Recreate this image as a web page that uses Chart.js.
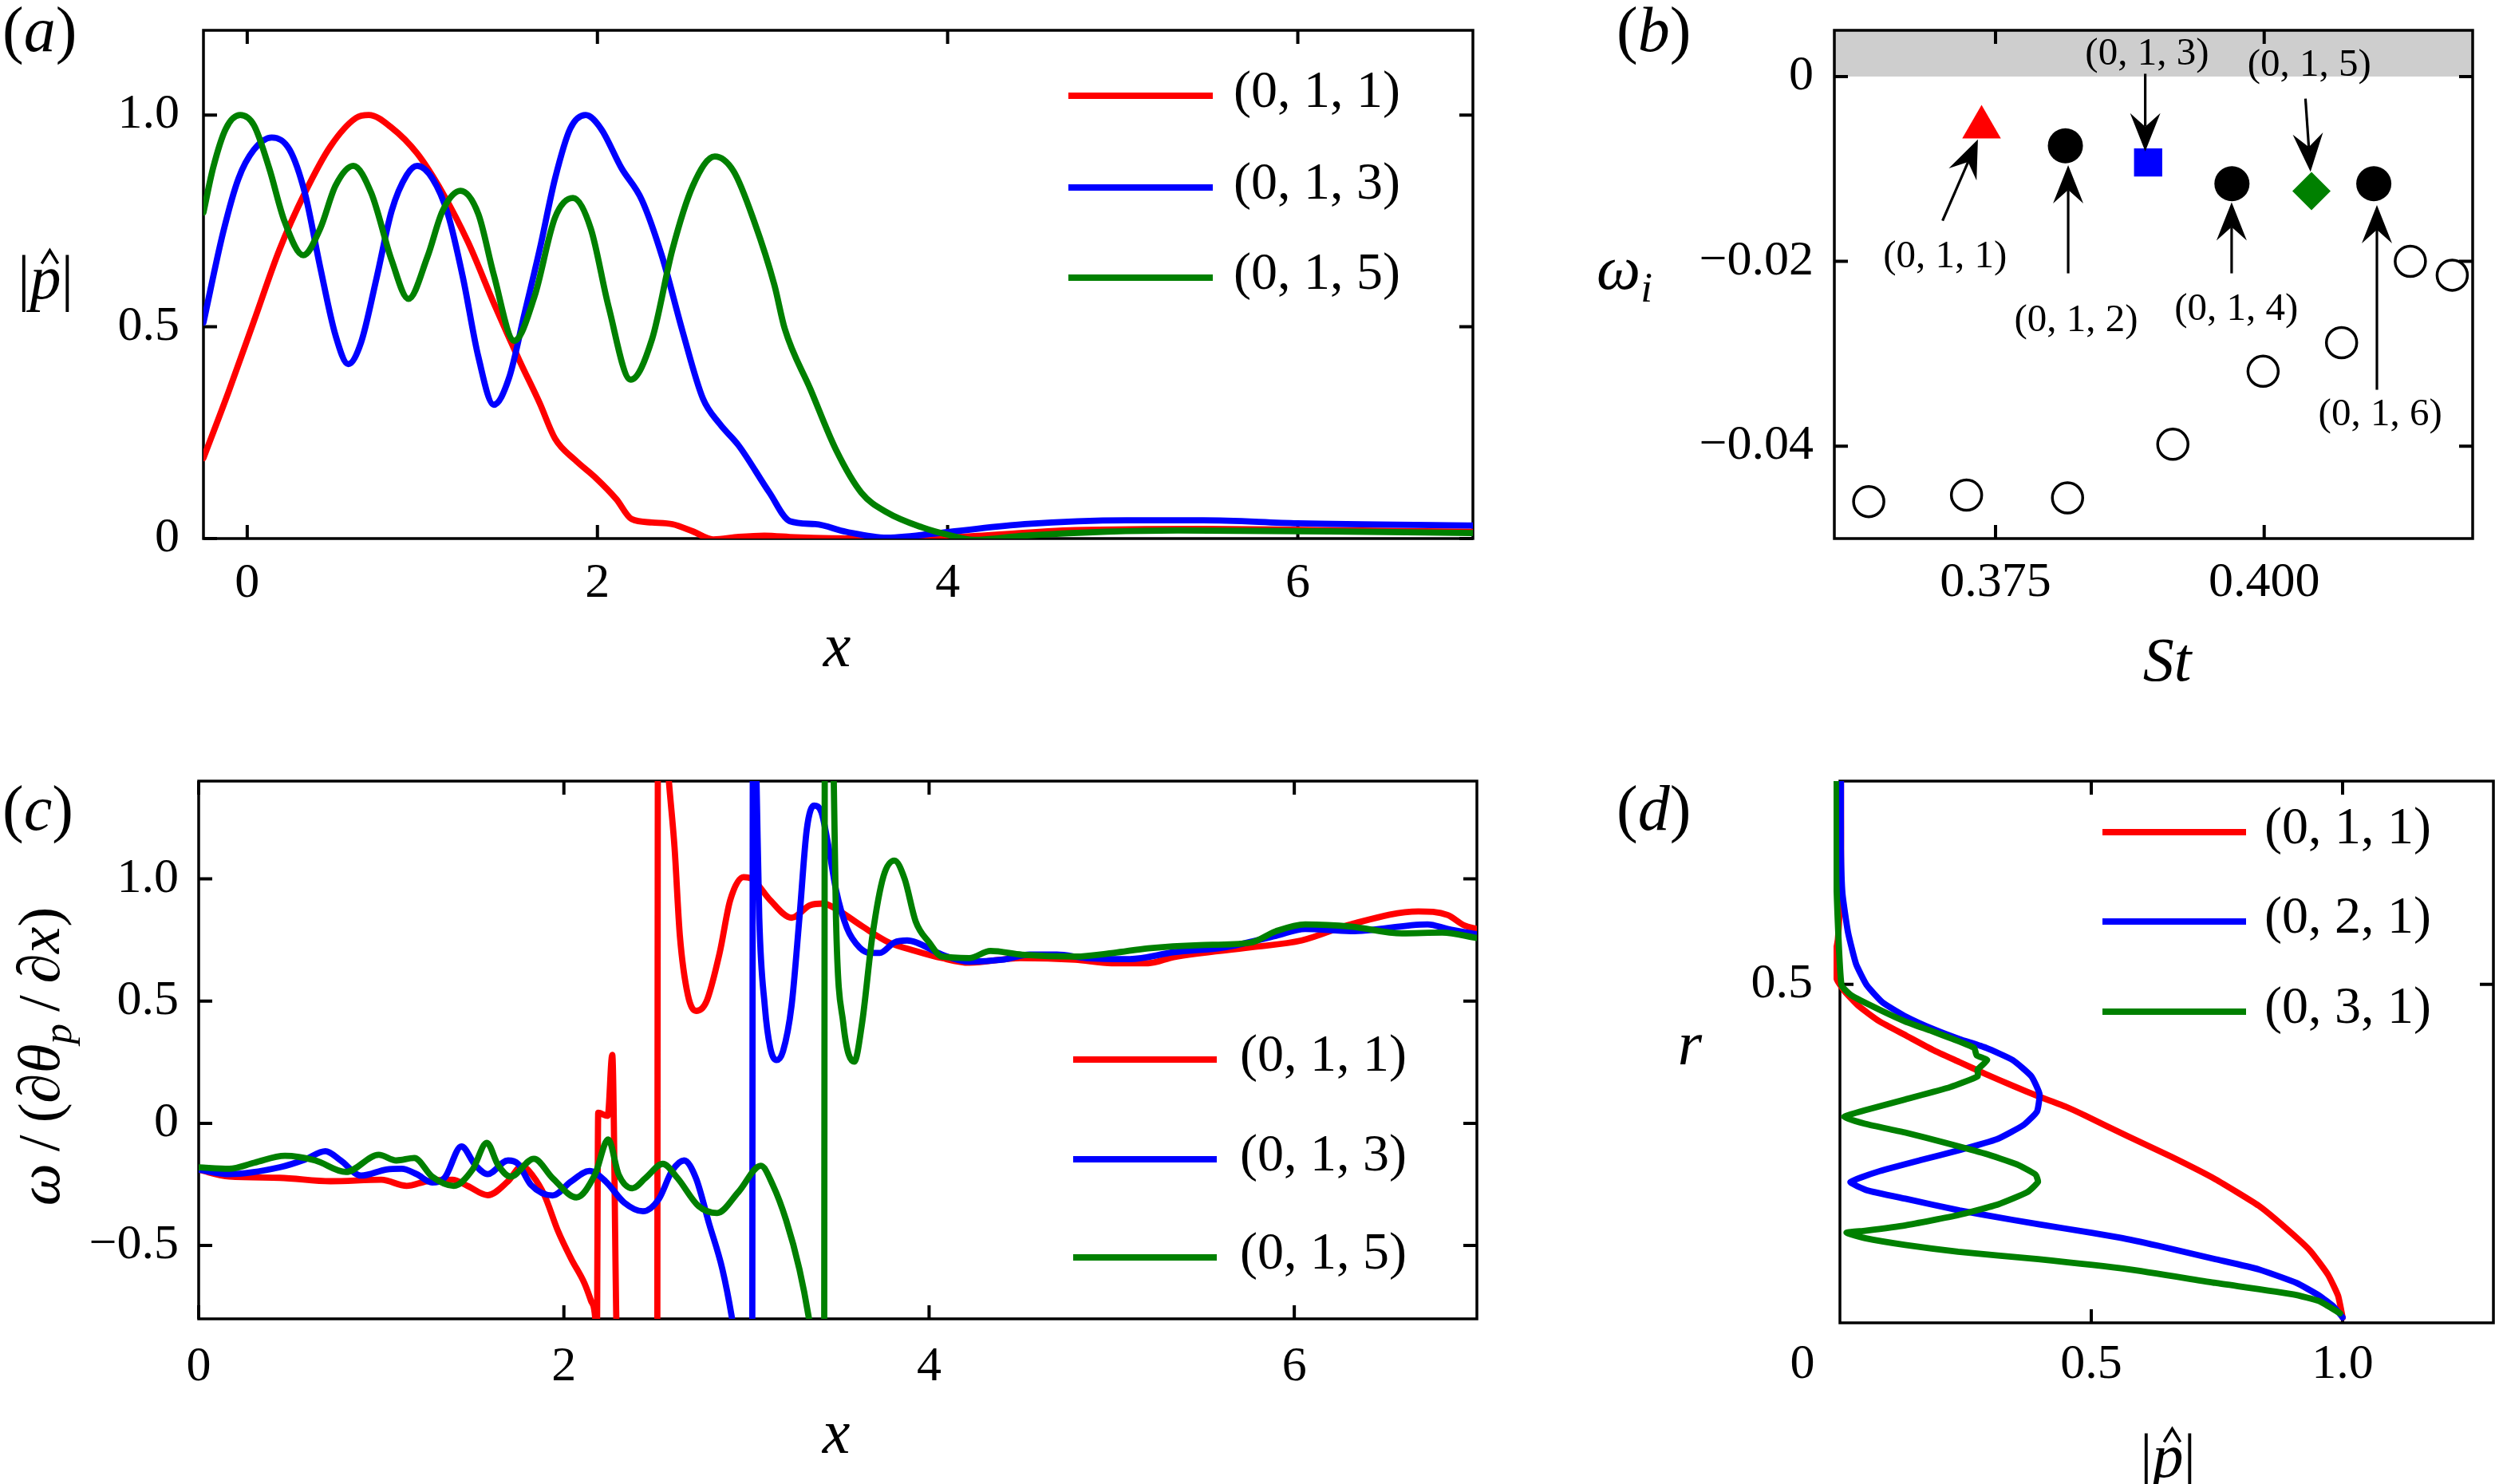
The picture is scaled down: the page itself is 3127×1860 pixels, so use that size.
<!DOCTYPE html>
<html>
<head>
<meta charset="utf-8">
<script src="https://cdn.jsdelivr.net/npm/chart.js@4.4.1/dist/chart.umd.min.js"></script>
<style>
  html, body { margin:0; padding:0; background:#ffffff; }
  body { width:3127px; height:1860px; position:relative; overflow:hidden; }
  canvas { position:absolute; display:block; }
</style>
</head>
<body>
<canvas id="cA" width="1900" height="900" style="left:0px;top:0px;width:1900px;height:900px"></canvas>
<canvas id="cB" width="1177" height="900" style="left:1950px;top:0px;width:1177px;height:900px"></canvas>
<canvas id="cC" width="1900" height="930" style="left:0px;top:930px;width:1900px;height:930px"></canvas>
<canvas id="cD" width="1177" height="930" style="left:1950px;top:930px;width:1177px;height:930px"></canvas>
<script>
// ---------------- DATA ----------------
// Panel (a): |p_hat| versus x
const A_SERIES = ['(0, 1, 1)', '(0, 1, 3)', '(0, 1, 5)'];
const A_X_011 = [-0.25, -0.108, 0.038, 0.184, 0.329, 0.475, 0.621, 0.694, 0.825, 0.971, 1.116, 1.262, 1.408, 1.554, 1.67, 1.758, 1.874, 1.991, 2.108, 2.195, 2.312, 2.428, 2.545, 2.661, 2.807, 2.953, 3.13, 3.56, 4.01, 4.73, 5.46, 6.18, 7.0];
const A_Y_011 = [0.19, 0.345, 0.513, 0.682, 0.816, 0.926, 0.993, 1.0, 0.97, 0.909, 0.816, 0.699, 0.556, 0.421, 0.32, 0.236, 0.185, 0.143, 0.093, 0.046, 0.038, 0.034, 0.017, -0.002, 0.004, 0.007, 0.003, 0.0, 0.003, 0.02, 0.023, 0.02, 0.016];
const A_X_013 = [-0.25, -0.137, -0.05, 0.038, 0.14, 0.242, 0.329, 0.417, 0.504, 0.577, 0.65, 0.738, 0.825, 0.912, 0.971, 1.058, 1.146, 1.233, 1.32, 1.408, 1.495, 1.583, 1.67, 1.758, 1.845, 1.933, 2.02, 2.137, 2.253, 2.37, 2.487, 2.603, 2.7, 2.806, 2.983, 3.099, 3.245, 3.42, 3.653, 4.01, 4.44, 5.02, 5.46, 6.0, 7.0];
const A_Y_013 = [0.51, 0.724, 0.85, 0.918, 0.947, 0.918, 0.816, 0.64, 0.48, 0.412, 0.463, 0.614, 0.774, 0.859, 0.88, 0.85, 0.766, 0.614, 0.429, 0.316, 0.379, 0.53, 0.682, 0.85, 0.968, 1.0, 0.968, 0.875, 0.8, 0.665, 0.488, 0.33, 0.27, 0.22, 0.108, 0.041, 0.034, 0.016, 0.002, 0.016, 0.034, 0.043, 0.043, 0.036, 0.031];
const A_X_015 = [-0.25, -0.195, -0.122, -0.04, 0.038, 0.125, 0.213, 0.32, 0.417, 0.504, 0.606, 0.708, 0.825, 0.921, 1.029, 1.116, 1.218, 1.32, 1.408, 1.525, 1.641, 1.758, 1.86, 1.962, 2.064, 2.19, 2.312, 2.428, 2.545, 2.67, 2.778, 2.895, 3.011, 3.07, 3.216, 3.362, 3.508, 3.653, 3.857, 4.01, 4.15, 4.44, 5.31, 6.18, 7.0];
const A_Y_015 = [0.77, 0.875, 0.968, 1.0, 0.976, 0.875, 0.749, 0.669, 0.732, 0.833, 0.88, 0.816, 0.657, 0.566, 0.665, 0.774, 0.821, 0.766, 0.623, 0.467, 0.572, 0.758, 0.804, 0.732, 0.547, 0.375, 0.471, 0.682, 0.833, 0.902, 0.867, 0.749, 0.598, 0.495, 0.353, 0.21, 0.108, 0.062, 0.026, 0.008, -0.003, 0.007, 0.019, 0.017, 0.013];
const A_XTICKS = [0, 2, 4, 6];
const A_XLABELS = ['0', '2', '4', '6'];
const A_YTICKS = [0, 0.5, 1.0];
const A_YLABELS = ['0', '0.5', '1.0'];

// Panel (b): growth rate omega_i versus St
const B_TRI_ST = [0.3737];            const B_TRI_WI = [-0.0055];
const B_FILLED_ST = [0.3815, 0.397, 0.4102]; const B_FILLED_WI = [-0.0075, -0.0116, -0.0116];
const B_SQ_ST = [0.3892];             const B_SQ_WI = [-0.0093];
const B_DIA_ST = [0.4044];            const B_DIA_WI = [-0.0124];
const B_OPEN_ST = [0.3632, 0.3723, 0.3817, 0.3915, 0.3999, 0.4072, 0.4136, 0.4175];
const B_OPEN_WI = [-0.0460, -0.0453, -0.0456, -0.0398, -0.0319, -0.0288, -0.0200, -0.0215];
const B_XTICKS = [0.375, 0.400];
const B_XLABELS = ['0.375', '0.400'];
const B_YTICKS = [0, -0.02, -0.04];
const B_YLABELS = ['0', '\u22120.02', '\u22120.04'];
const B_LABELS = ['(0, 1, 1)', '(0, 1, 2)', '(0, 1, 3)', '(0, 1, 4)', '(0, 1, 5)', '(0, 1, 6)'];

// Panel (c): omega/(d theta_p/dx) versus x
const C_SERIES = ['(0, 1, 1)', '(0, 1, 3)', '(0, 1, 5)'];
const C_X_011 = [0, 0.167, 0.444, 0.722, 1.0, 1.139, 1.25, 1.389, 1.472, 1.583, 1.694, 1.77, 1.83, 1.894, 1.967, 2.04, 2.113, 2.149, 2.172, 2.18, 2.188, 2.24, 2.265, 2.292, 2.51, 2.516, 2.575, 2.606, 2.635, 2.679, 2.725, 2.78, 2.853, 2.911, 2.984, 3.03, 3.13, 3.247, 3.348, 3.42, 3.49, 3.636, 3.78, 3.926, 4.07, 4.22, 4.5, 4.8, 5.0, 5.2, 5.34, 5.76, 6.04, 6.31, 6.68, 6.84, 6.93, 7.0];
const C_Y_011 = [-0.19, -0.218, -0.223, -0.237, -0.231, -0.256, -0.237, -0.231, -0.256, -0.294, -0.237, -0.175, -0.215, -0.295, -0.439, -0.554, -0.655, -0.727, -0.8, -0.95, 0.043, 0.03, 0.28, -0.95, -1.6, 2.0, 1.4, 1.129, 0.769, 0.525, 0.46, 0.497, 0.697, 0.913, 1.007, 1.0, 0.913, 0.841, 0.892, 0.899, 0.877, 0.805, 0.74, 0.705, 0.676, 0.657, 0.676, 0.669, 0.655, 0.655, 0.68, 0.72, 0.748, 0.814, 0.867, 0.852, 0.81, 0.795];
const C_X_013 = [0, 0.167, 0.444, 0.583, 0.694, 0.778, 0.889, 1.028, 1.111, 1.194, 1.278, 1.347, 1.439, 1.514, 1.583, 1.694, 1.749, 1.82, 1.938, 2.04, 2.14, 2.229, 2.33, 2.433, 2.52, 2.592, 2.658, 2.723, 2.795, 2.868, 2.919, 2.96, 3.03, 3.036, 3.055, 3.07, 3.1, 3.13, 3.165, 3.2, 3.247, 3.29, 3.33, 3.37, 3.41, 3.45, 3.49, 3.55, 3.62, 3.68, 3.73, 3.81, 3.88, 3.93, 4.07, 4.22, 4.4, 4.55, 4.7, 4.86, 5.1, 5.342, 5.62, 5.9, 6.06, 6.31, 6.73, 6.84, 7.0];
const C_Y_013 = [-0.19, -0.208, -0.18, -0.148, -0.114, -0.152, -0.214, -0.189, -0.186, -0.208, -0.242, -0.223, -0.095, -0.17, -0.208, -0.152, -0.166, -0.252, -0.295, -0.238, -0.195, -0.238, -0.324, -0.36, -0.31, -0.195, -0.152, -0.224, -0.41, -0.597, -0.79, -1.0, -1.6, 2.0, 1.4, 0.841, 0.482, 0.309, 0.259, 0.295, 0.482, 0.841, 1.201, 1.30, 1.273, 1.129, 0.956, 0.799, 0.719, 0.697, 0.697, 0.74, 0.748, 0.74, 0.69, 0.661, 0.669, 0.69, 0.69, 0.676, 0.672, 0.70, 0.72, 0.767, 0.795, 0.786, 0.814, 0.795, 0.773];
const C_X_015 = [0, 0.167, 0.306, 0.472, 0.639, 0.806, 0.986, 1.083, 1.181, 1.278, 1.397, 1.5, 1.578, 1.639, 1.708, 1.836, 1.938, 2.069, 2.17, 2.243, 2.3, 2.375, 2.447, 2.542, 2.622, 2.738, 2.839, 2.956, 3.079, 3.144, 3.217, 3.29, 3.34, 3.38, 3.424, 3.43, 3.478, 3.49, 3.53, 3.59, 3.633, 3.69, 3.75, 3.81, 3.866, 3.926, 4.0, 4.07, 4.22, 4.336, 4.51, 4.8, 5.01, 5.2, 5.48, 5.76, 5.9, 6.06, 6.31, 6.59, 6.81, 7.0];
const C_Y_015 = [-0.18, -0.186, -0.161, -0.133, -0.152, -0.199, -0.129, -0.152, -0.142, -0.218, -0.256, -0.189, -0.08, -0.17, -0.218, -0.145, -0.224, -0.303, -0.21, -0.066, -0.21, -0.266, -0.224, -0.166, -0.224, -0.339, -0.367, -0.281, -0.174, -0.252, -0.396, -0.597, -0.79, -1.0, -1.6, 2.0, 1.4, 0.841, 0.41, 0.252, 0.41, 0.769, 1.01, 1.075, 1.0, 0.827, 0.74, 0.682, 0.676, 0.705, 0.69, 0.682, 0.697, 0.716, 0.729, 0.739, 0.786, 0.814, 0.805, 0.777, 0.78, 0.758];
const C_XTICKS = [0, 2, 4, 6];
const C_XLABELS = ['0', '2', '4', '6'];
const C_YTICKS = [-0.5, 0, 0.5, 1.0];
const C_YLABELS = ['\u22120.5', '0', '0.5', '1.0'];

// Panel (d): r versus |p_hat|
const D_SERIES = ['(0, 1, 1)', '(0, 2, 1)', '(0, 3, 1)'];
const D_P_011 = [0.002, 0.002, -0.004, -0.012, -0.006, 0.01, 0.037, 0.079, 0.132, 0.185, 0.238, 0.291, 0.344, 0.397, 0.45, 0.488, 0.574, 0.66, 0.747, 0.833, 0.89, 0.936, 0.971, 0.991, 1.0];
const D_R_011 = [0.80, 0.65, 0.567, 0.53, 0.507, 0.489, 0.468, 0.445, 0.424, 0.403, 0.385, 0.367, 0.35, 0.334, 0.319, 0.306, 0.275, 0.245, 0.212, 0.173, 0.138, 0.106, 0.071, 0.04, 0.008];
const D_P_021 = [0.002, 0.002, 0.005, 0.016, 0.032, 0.053, 0.085, 0.132, 0.185, 0.238, 0.291, 0.344, 0.381, 0.397, 0.392, 0.365, 0.312, 0.238, 0.159, 0.079, 0.021, 0.053, 0.132, 0.238, 0.344, 0.45, 0.556, 0.632, 0.747, 0.833, 0.908, 0.954, 0.982, 1.0];
const D_R_021 = [0.80, 0.70, 0.634, 0.577, 0.53, 0.499, 0.473, 0.452, 0.434, 0.419, 0.406, 0.388, 0.364, 0.338, 0.312, 0.292, 0.271, 0.255, 0.24, 0.224, 0.208, 0.196, 0.183, 0.166, 0.152, 0.139, 0.126, 0.114, 0.094, 0.079, 0.059, 0.04, 0.024, 0.008];
const D_P_031 = [-0.008, -0.007, 0.003, 0.024, 0.077, 0.13, 0.182, 0.225, 0.267, 0.272, 0.293, 0.274, 0.274, 0.219, 0.13, 0.05, 0.008, 0.05, 0.13, 0.209, 0.288, 0.352, 0.389, 0.394, 0.373, 0.315, 0.235, 0.13, 0.05, 0.013, 0.05, 0.13, 0.235, 0.394, 0.574, 0.747, 0.902, 0.954, 0.995];
const D_R_031 = [0.80, 0.65, 0.499, 0.483, 0.463, 0.445, 0.431, 0.419, 0.406, 0.395, 0.388, 0.374, 0.364, 0.348, 0.33, 0.314, 0.304, 0.294, 0.281, 0.266, 0.25, 0.234, 0.219, 0.208, 0.193, 0.175, 0.159, 0.144, 0.136, 0.133, 0.125, 0.115, 0.105, 0.094, 0.079, 0.059, 0.042, 0.032, 0.014];
const D_XTICKS = [0.5, 1.0];
const D_XLABELS = ['0.5', '1.0'];
const D_YTICKS = [0.5];
const D_YLABELS = ['0.5'];

// ---------------- STYLE / LAYOUT ----------------
const FAM = '"Liberation Serif", "Times New Roman", serif';
const RED = '#ff0000', BLUE = '#0000ff', GREEN = '#008000';
const TICK_FONT = 62, LEG_FONT = 66, TITLE_FONT = 78, PANEL_FONT = 80, ANN_FONT = 49;
const LINE_W = 7.8;

function fnt(size, italic) { return (italic ? 'italic ' : 'normal ') + size + 'px ' + FAM; }
function pts(xs, ys) { return xs.map((x, i) => ({ x: x, y: ys[i] })); }

function rich(ctx, segs, x, y, size, align) {
  const items = segs.map(s => {
    const fs = s.sub ? size * 0.68 : size;
    ctx.font = fnt(fs, s.i);
    return { s: s, fs: fs, w: ctx.measureText(s.t).width };
  });
  const total = items.reduce((a, b) => a + b.w, 0);
  let cx = (align === 'left') ? x : x - total / 2;
  ctx.save();
  ctx.textAlign = 'left'; ctx.textBaseline = 'alphabetic'; ctx.fillStyle = '#000';
  for (const it of items) {
    ctx.font = fnt(it.fs, it.s.i);
    ctx.fillText(it.s.t, cx, y + (it.s.sub ? size * 0.2 : 0));
    if (it.s.hat) {
      const hx = cx + it.w * 0.5 + size * 0.07;
      ctx.strokeStyle = '#000'; ctx.lineWidth = size * 0.045; ctx.lineJoin = 'miter';
      ctx.beginPath();
      ctx.moveTo(hx - size * 0.13, y - size * 0.56);
      ctx.lineTo(hx, y - size * 0.77);
      ctx.lineTo(hx + size * 0.13, y - size * 0.56);
      ctx.stroke();
    }
    cx += it.w;
  }
  ctx.restore();
}

function framePlugin(id, xt, yt, band) {
  return {
    id: id,
    beforeDatasetsDraw(chart) {
      const { ctx, chartArea: a, scales: { x, y } } = chart;
      ctx.save();
      if (band) {
        const y0 = y.getPixelForValue(0);
        ctx.fillStyle = '#cecece';
        ctx.fillRect(a.left, a.top, a.right - a.left, y0 - a.top);
      }
      ctx.strokeStyle = '#000';
      ctx.lineWidth = 4;
      const L = 17;
      ctx.beginPath();
      for (const v of xt) {
        const px = x.getPixelForValue(v);
        ctx.moveTo(px, a.bottom); ctx.lineTo(px, a.bottom - L);
        ctx.moveTo(px, a.top); ctx.lineTo(px, a.top + L);
      }
      for (const v of yt) {
        const py = y.getPixelForValue(v);
        ctx.moveTo(a.left, py); ctx.lineTo(a.left + L, py);
        ctx.moveTo(a.right, py); ctx.lineTo(a.right - L, py);
      }
      ctx.stroke();
      ctx.lineWidth = 3.5;
      ctx.strokeRect(a.left, a.top, a.right - a.left, a.bottom - a.top);
      ctx.restore();
    }
  };
}

function drawLegend(ctx, chart, x1, x2, xt, ys) {
  ctx.save();
  chart.data.datasets.forEach((ds, i) => {
    ctx.strokeStyle = ds.borderColor; ctx.lineWidth = 8; ctx.lineCap = 'butt';
    ctx.beginPath(); ctx.moveTo(x1, ys[i]); ctx.lineTo(x2, ys[i]); ctx.stroke();
    ctx.fillStyle = '#000'; ctx.font = fnt(LEG_FONT, false);
    ctx.textAlign = 'left'; ctx.textBaseline = 'alphabetic';
    ctx.fillText(ds.label, xt, ys[i] + 14);
  });
  ctx.restore();
}

function scalesFor(p) {
  const tickFont = { family: FAM, size: TICK_FONT };
  return {
    x: {
      type: 'linear', min: p.xmin, max: p.xmax,
      afterBuildTicks: ax => { ax.ticks = p.xt.map(v => ({ value: v })); },
      afterFit: ax => { ax.height = p.h - p.area.b; ax.paddingLeft = 0; ax.paddingRight = 0; ax.paddingTop = 0; ax.paddingBottom = 0; },
      ticks: { autoSkip: false, maxRotation: 0, minRotation: 0, padding: p.xpad, color: '#000', font: tickFont,
               callback: (v, i) => p.xl[i] },
      grid: { display: false, drawTicks: false }, border: { display: false }
    },
    y: {
      type: 'linear', min: p.ymin, max: p.ymax,
      afterBuildTicks: ax => { ax.ticks = p.yt.map(v => ({ value: v })); },
      afterFit: ax => { ax.width = p.area.l; ax.paddingTop = 0; ax.paddingBottom = 0; ax.paddingLeft = 0; ax.paddingRight = 0; },
      ticks: { autoSkip: false, padding: p.ypad, color: '#000', font: tickFont,
               callback: (v, i) => p.yl[i] },
      grid: { display: false, drawTicks: false }, border: { display: false }
    }
  };
}

function baseOptions(p) {
  return {
    responsive: false, animation: false, devicePixelRatio: 1,
    layout: { padding: { left: 0, top: p.area.t, right: p.w - p.area.r, bottom: 0 } },
    plugins: { legend: { display: false }, tooltip: { enabled: false }, title: { display: false } },
    events: [],
    scales: scalesFor(p)
  };
}

function lineDs(label, color, data, order, extra) {
  return Object.assign({
    label: label, data: data, borderColor: color, backgroundColor: color, borderWidth: LINE_W,
    pointRadius: 0, pointHoverRadius: 0, showLine: true, fill: false, order: order,
    cubicInterpolationMode: 'monotone', borderCapStyle: 'round', borderJoinStyle: 'round'
  }, extra || {});
}

// ---------------- PANEL (a) ----------------
const PA = { w: 1900, h: 900, area: { l: 255, t: 38, r: 1846, b: 675 }, xmin: -0.25, xmax: 7, ymin: 0, ymax: 1.2,
  xt: A_XTICKS, xl: A_XLABELS, yt: A_YTICKS, yl: A_YLABELS, xpad: 20, ypad: 30 };
new Chart(document.getElementById('cA'), {
  type: 'scatter',
  data: { datasets: [
    lineDs(A_SERIES[0], RED, pts(A_X_011, A_Y_011), 3),
    lineDs(A_SERIES[1], BLUE, pts(A_X_013, A_Y_013), 2),
    lineDs(A_SERIES[2], GREEN, pts(A_X_015, A_Y_015), 1)
  ] },
  options: baseOptions(PA),
  plugins: [framePlugin('frameA', A_XTICKS, A_YTICKS, false), {
    id: 'decoA',
    afterDraw(chart) {
      const ctx = chart.ctx;
      drawLegend(ctx, chart, 1339, 1520, 1546, [120, 235, 348]);
      rich(ctx, [{ t: '(' }, { t: 'a', i: true }, { t: ')' }], 3, 64, PANEL_FONT, 'left');
      rich(ctx, [{ t: 'x', i: true }], 1049, 835, TITLE_FONT);
      rich(ctx, [{ t: '|' }, { t: 'p', i: true, hat: true }, { t: '|' }], 57, 374, TITLE_FONT);
    }
  }]
});

// ---------------- PANEL (b) ----------------
const PB = { w: 1177, h: 900, area: { l: 349, t: 38, r: 1161, b: 675 }, xmin: 0.36, xmax: 0.4194, ymin: -0.05, ymax: 0.005,
  xt: B_XTICKS, xl: B_XLABELS, yt: B_YTICKS, yl: B_YLABELS, xpad: 19, ypad: 26 };
const B_ANN = [
  { text: [0.3703, -0.0196], tail: [0.37007, -0.0156], head: [0.37336, -0.0068] },
  { text: [0.3825, -0.0265], tail: [0.38176, -0.0213], head: [0.38176, -0.0096] },
  { text: [0.3891, 0.0023], tail: [0.38893, 0.0003], head: [0.38893, -0.0081] },
  { text: [0.3974, -0.0253], tail: [0.39697, -0.0213], head: [0.39697, -0.0136] },
  { text: [0.4042, 0.0011], tail: [0.40384, -0.0024], head: [0.40431, -0.0103] },
  { text: [0.4108, -0.0367], tail: [0.41049, -0.0339], head: [0.41049, -0.0139] }
];
function arrow(ctx, x0, y0, x1, y1) {
  const dx = x1 - x0, dy = y1 - y0, L = Math.hypot(dx, dy), ux = dx / L, uy = dy / L, px = -uy, py = ux;
  const HL = 48, HW = 19, NOTCH = 31;
  ctx.beginPath(); ctx.moveTo(x0, y0); ctx.lineTo(x1 - ux * NOTCH, y1 - uy * NOTCH);
  ctx.lineWidth = 3.2; ctx.strokeStyle = '#000'; ctx.stroke();
  ctx.beginPath(); ctx.moveTo(x1, y1);
  ctx.lineTo(x1 - ux * HL + px * HW, y1 - uy * HL + py * HW);
  ctx.lineTo(x1 - ux * NOTCH, y1 - uy * NOTCH);
  ctx.lineTo(x1 - ux * HL - px * HW, y1 - uy * HL - py * HW);
  ctx.closePath(); ctx.fillStyle = '#000'; ctx.fill();
}
new Chart(document.getElementById('cB'), {
  type: 'scatter',
  data: { datasets: [
    { label: 'other modes', data: pts(B_OPEN_ST, B_OPEN_WI), pointStyle: 'circle', pointRadius: 19, backgroundColor: '#ffffff', borderColor: '#000', borderWidth: 3.5 },
    { label: '(0, 1, even)', data: pts(B_FILLED_ST, B_FILLED_WI), pointStyle: 'circle', pointRadius: 22, backgroundColor: '#000', borderColor: '#000', borderWidth: 0 },
    { label: '(0, 1, 1)', data: pts(B_TRI_ST, B_TRI_WI), pointStyle: 'triangle', pointRadius: 28, backgroundColor: RED, borderColor: RED, borderWidth: 0 },
    { label: '(0, 1, 3)', data: pts(B_SQ_ST, B_SQ_WI), pointStyle: 'rect', pointRadius: 25, backgroundColor: BLUE, borderColor: BLUE, borderWidth: 0 },
    { label: '(0, 1, 5)', data: pts(B_DIA_ST, B_DIA_WI), pointStyle: 'rectRot', pointRadius: 24, backgroundColor: GREEN, borderColor: GREEN, borderWidth: 0 }
  ] },
  options: baseOptions(PB),
  plugins: [framePlugin('frameB', B_XTICKS, B_YTICKS, true), {
    id: 'decoB',
    afterDraw(chart) {
      const ctx = chart.ctx, sx = chart.scales.x, sy = chart.scales.y;
      ctx.save();
      B_ANN.forEach((a, i) => {
        arrow(ctx, sx.getPixelForValue(a.tail[0]), sy.getPixelForValue(a.tail[1]),
                   sx.getPixelForValue(a.head[0]), sy.getPixelForValue(a.head[1]));
        ctx.font = fnt(ANN_FONT, false); ctx.fillStyle = '#000';
        ctx.textAlign = 'center'; ctx.textBaseline = 'alphabetic';
        ctx.fillText(B_LABELS[i], sx.getPixelForValue(a.text[0]), sy.getPixelForValue(a.text[1]) + 12);
      });
      ctx.restore();
      rich(ctx, [{ t: '(' }, { t: 'b', i: true }, { t: ')' }], 76, 64, PANEL_FONT, 'left');
      rich(ctx, [{ t: 'St', i: true }], 766, 853, TITLE_FONT);
      rich(ctx, [{ t: '\u03C9', i: true }, { t: 'i', i: true, sub: true }], 86, 362, TITLE_FONT);
    }
  }]
});

// ---------------- PANEL (c) ----------------
const PC = { w: 1900, h: 930, area: { l: 249, t: 49, r: 1851, b: 723 }, xmin: 0, xmax: 7, ymin: -0.8, ymax: 1.4,
  xt: C_XTICKS, xl: C_XLABELS, yt: C_YTICKS, yl: C_YLABELS, xpad: 24, ypad: 25 };
new Chart(document.getElementById('cC'), {
  type: 'scatter',
  data: { datasets: [
    lineDs(C_SERIES[0], RED, pts(C_X_011, C_Y_011), 3),
    lineDs(C_SERIES[1], BLUE, pts(C_X_013, C_Y_013), 2),
    lineDs(C_SERIES[2], GREEN, pts(C_X_015, C_Y_015), 1)
  ] },
  options: baseOptions(PC),
  plugins: [framePlugin('frameC', C_XTICKS, C_YTICKS, false), {
    id: 'decoC',
    afterDraw(chart) {
      const ctx = chart.ctx;
      drawLegend(ctx, chart, 1345, 1525, 1554, [398, 523, 646]);
      rich(ctx, [{ t: '(' }, { t: 'c', i: true }, { t: ')' }], 3, 110, PANEL_FONT, 'left');
      rich(ctx, [{ t: 'x', i: true }], 1048, 891, TITLE_FONT);
      ctx.save();
      ctx.translate(74, 394);
      ctx.rotate(-Math.PI / 2);
      rich(ctx, [{ t: '\u03C9', i: true }, { t: '\u2009/\u2009' }, { t: '(\u2202' }, { t: '\u03B8', i: true },
                 { t: 'p', i: true, sub: true }, { t: '\u2009/\u2009\u2202' }, { t: 'x', i: true }, { t: ')' }],
           0, 0, 75);
      ctx.restore();
    }
  }]
});

// ---------------- PANEL (d) ----------------
const PD = { w: 1177, h: 930, area: { l: 356, t: 49, r: 1175, b: 728 }, xmin: 0, xmax: 1.3, ymin: 0, ymax: 0.8,
  xt: D_XTICKS, xl: D_XLABELS, yt: D_YTICKS, yl: D_YLABELS, xpad: 16, ypad: 34 };
const dExtra = { cubicInterpolationMode: 'default', tension: 0.15, clip: { left: 8, top: 0, right: 0, bottom: 4 } };
new Chart(document.getElementById('cD'), {
  type: 'scatter',
  data: { datasets: [
    lineDs(D_SERIES[0], RED, pts(D_P_011, D_R_011), 3, dExtra),
    lineDs(D_SERIES[1], BLUE, pts(D_P_021, D_R_021), 2, dExtra),
    lineDs(D_SERIES[2], GREEN, pts(D_P_031, D_R_031), 1, dExtra)
  ] },
  options: baseOptions(PD),
  plugins: [framePlugin('frameD', D_XTICKS, D_YTICKS, false), {
    id: 'decoD',
    afterDraw(chart) {
      const ctx = chart.ctx;
      drawLegend(ctx, chart, 685, 865, 888, [113, 225, 338]);
      rich(ctx, [{ t: '(' }, { t: 'd', i: true }, { t: ')' }], 76, 110, PANEL_FONT, 'left');
      ctx.save();
      ctx.font = fnt(TICK_FONT, false); ctx.fillStyle = '#000';
      ctx.textAlign = 'center'; ctx.textBaseline = 'middle';
      ctx.fillText('0', 309, 781);
      ctx.restore();
      rich(ctx, [{ t: 'r', i: true }], 168, 404, TITLE_FONT);
      rich(ctx, [{ t: '|' }, { t: 'p', i: true, hat: true }, { t: '|' }], 767, 921, TITLE_FONT);
    }
  }]
});
</script>
</body>
</html>
